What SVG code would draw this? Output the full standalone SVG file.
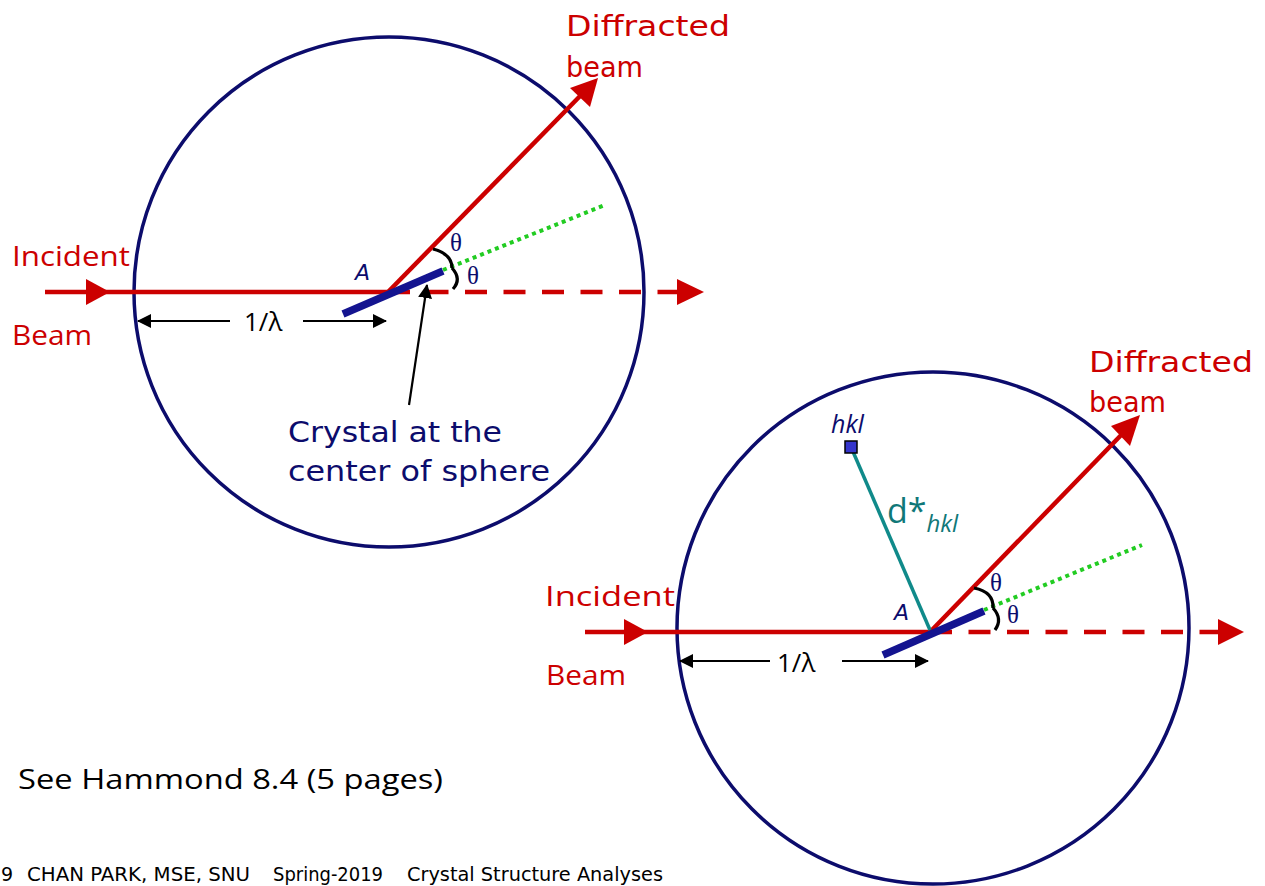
<svg xmlns="http://www.w3.org/2000/svg" width="1265" height="886" viewBox="0 0 1265 886">
<style>
.sphere{fill:none;stroke:#0c0c6c;stroke-width:3.5}
.beam{stroke:#cc0000;stroke-width:4.5;fill:none}
.dash{stroke:#cc0000;stroke-width:4.5;fill:none;stroke-dasharray:22 16.5}
.head{fill:#cc0000}
.green{stroke:#22cc22;stroke-width:4;fill:none;stroke-dasharray:4 4}
.crystal{stroke:#141490;stroke-width:7.5;fill:none}
.brace{stroke:#000;stroke-width:3.2;fill:none}
.dim{stroke:#000;stroke-width:2.2;fill:none}
.red{fill:#cc0000;font-family:"DejaVu Sans",sans-serif}
.redsans{fill:#cc0000;font-family:"Open Sans","DejaVu Sans",sans-serif}
.navy{fill:#0c0c6c;font-family:"DejaVu Sans",sans-serif}
.theta{fill:#0c0c6c;font-family:"Liberation Serif",serif;font-size:25px}
.lam{fill:#000;font-family:"Open Sans","DejaVu Sans",sans-serif;font-size:26px}
.foot{fill:#000;font-family:"DejaVu Sans",sans-serif;font-size:19px}
</style>
<defs>
<marker id="ah" viewBox="0 0 14 14" refX="13" refY="7" markerWidth="14" markerHeight="14" markerUnits="userSpaceOnUse" orient="auto">
<path d="M0,0 L14,7 L0,14 Z" fill="#000"/>
</marker>
</defs>

<g id="sphere1"><circle class="sphere" cx="389" cy="292" r="255"/></g>
<g id="sphere2"><circle class="sphere" cx="933" cy="628" r="256"/></g>

<g id="connectors">
<!-- diagram 1 -->
<line class="beam" x1="45" y1="292" x2="388" y2="292"/>
<polygon class="head" points="86,279 110,292 86,305"/>
<line class="dash" x1="388" y1="292" x2="680" y2="292"/>
<polygon class="head" points="677,279 704,292 677,305"/>
<line class="beam" x1="388" y1="292" x2="585" y2="91"/>
<polygon class="head" points="598,78 570,88 590,107"/>
<line class="green" x1="443" y1="270" x2="605" y2="205"/>
<path class="brace" d="M433,249 Q452,254 452,268"/>
<path class="brace" d="M452,268 Q462,279 453,289"/>
<line class="dim" x1="409" y1="405" x2="427" y2="285" marker-end="url(#ah)"/>
<line class="dim" x1="230" y1="321" x2="138" y2="321" marker-end="url(#ah)"/>
<line class="dim" x1="303" y1="321" x2="386" y2="321" marker-end="url(#ah)"/>
<!-- diagram 2 -->
<line class="beam" x1="585" y1="632" x2="930" y2="632"/>
<polygon class="head" points="624,619 648,632 624,645"/>
<line class="dash" x1="930" y1="632" x2="1220" y2="632"/>
<polygon class="head" points="1218,619 1244,632 1218,645"/>
<line class="beam" x1="930" y1="632" x2="1127" y2="429"/>
<polygon class="head" points="1140,415 1111,426 1130,446"/>
<line class="green" x1="984" y1="610" x2="1142" y2="545"/>
<path class="brace" d="M974,588 Q994,592 993,608"/>
<path class="brace" d="M993,608 Q1003,619 995,630"/>
<line x1="851" y1="447" x2="930" y2="630" stroke="#108a8a" stroke-width="3.5"/>
<line class="dim" x1="770" y1="661" x2="680" y2="661" marker-end="url(#ah)"/>
<line class="dim" x1="842" y1="661" x2="928" y2="661" marker-end="url(#ah)"/>
</g>

<g id="crystal1"><line class="crystal" x1="343" y1="314" x2="443" y2="271"/></g>
<g id="crystal2"><line class="crystal" x1="883" y1="655" x2="984" y2="611"/></g>
<g id="hkl"><rect x="845" y="441" width="12" height="12" fill="#3535cc" stroke="#000" stroke-width="1.5"/></g>

<g id="labels1">
<text class="redsans" x="12" y="266" font-size="28" textLength="118" lengthAdjust="spacingAndGlyphs">Incident</text>
<text class="redsans" x="12" y="345" font-size="28" textLength="80" lengthAdjust="spacingAndGlyphs">Beam</text>
<text class="red" x="566" y="36" font-size="29" textLength="164" lengthAdjust="spacingAndGlyphs">Diffracted</text>
<text class="red" x="566" y="77" font-size="29" textLength="77" lengthAdjust="spacingAndGlyphs">beam</text>
<text class="navy" x="355" y="280" font-size="22" font-style="italic">A</text>
<text class="theta" x="450" y="251">θ</text>
<text class="theta" x="467" y="284">θ</text>
<text class="lam" x="244" y="331">1/λ</text>
<text class="navy" x="288" y="442" font-size="28" textLength="214" lengthAdjust="spacingAndGlyphs">Crystal at the</text>
<text class="navy" x="288" y="481" font-size="28" textLength="262" lengthAdjust="spacingAndGlyphs">center of sphere</text>
</g>

<g id="labels2">
<text class="redsans" x="545" y="606" font-size="28" textLength="130" lengthAdjust="spacingAndGlyphs">Incident</text>
<text class="redsans" x="546" y="685" font-size="28" textLength="80" lengthAdjust="spacingAndGlyphs">Beam</text>
<text class="red" x="1089" y="372" font-size="29" textLength="164" lengthAdjust="spacingAndGlyphs">Diffracted</text>
<text class="red" x="1089" y="412" font-size="29" textLength="77" lengthAdjust="spacingAndGlyphs">beam</text>
<text class="navy" x="894" y="620" font-size="22" font-style="italic">A</text>
<text class="theta" x="990" y="591">θ</text>
<text class="theta" x="1007" y="623">θ</text>
<text class="lam" x="777" y="672">1/λ</text>
<text x="831" y="433" font-family="Open Sans, DejaVu Sans, sans-serif" font-size="25" font-style="italic" fill="#0c0c6c">hkl</text>
<text x="887" y="523" font-family="Open Sans, DejaVu Sans, sans-serif" font-size="34" fill="#107878">d*<tspan font-size="24" font-style="italic" dy="9">hkl</tspan></text>
</g>

<g id="notes">
<text x="18" y="789" font-family="Open Sans, DejaVu Sans, sans-serif" font-size="27" fill="#000" textLength="425" lengthAdjust="spacingAndGlyphs">See Hammond 8.4 (5 pages)</text>
<text class="foot" x="1" y="881">9</text>
<text class="foot" x="27" y="881" textLength="223" lengthAdjust="spacingAndGlyphs">CHAN PARK, MSE, SNU</text>
<text class="foot" x="273" y="881" textLength="110" lengthAdjust="spacingAndGlyphs">Spring-2019</text>
<text class="foot" x="407" y="881" textLength="256" lengthAdjust="spacingAndGlyphs">Crystal Structure Analyses</text>
</g>
</svg>
